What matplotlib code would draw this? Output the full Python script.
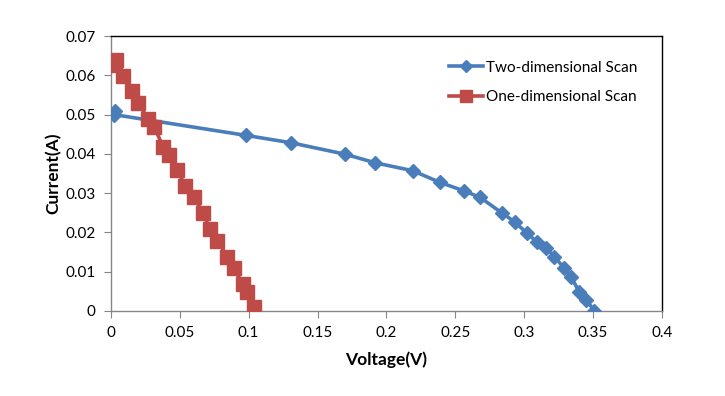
import matplotlib
matplotlib.use("Agg")
import matplotlib.pyplot as plt

# Two-dimensional scan (voltage V, current A)
two_v = [0.003, 0.002, 0.098, 0.131, 0.170, 0.192, 0.219, 0.239, 0.256, 0.268,
         0.284, 0.293, 0.302, 0.309, 0.316, 0.322, 0.329, 0.334, 0.340, 0.345, 0.351]
two_i = [0.0508, 0.0500, 0.0447, 0.0428, 0.0399, 0.0377, 0.0357, 0.0327, 0.0306, 0.0289,
         0.0249, 0.0227, 0.0198, 0.0176, 0.0160, 0.0138, 0.0109, 0.0087, 0.0048, 0.0028, 0.0]

# One-dimensional scan
one_v = [0.002, 0.004, 0.003, 0.009, 0.0155, 0.020, 0.027, 0.0315, 0.038, 0.0424, 0.048,
         0.054, 0.0606, 0.0667, 0.072, 0.0773, 0.0846, 0.089, 0.0958, 0.0991, 0.104]
one_i = [0.0625, 0.0640, 0.0632, 0.0598, 0.0560, 0.0529, 0.0488, 0.0468, 0.0417, 0.0397, 0.0359,
         0.0318, 0.0289, 0.0249, 0.0208, 0.0178, 0.0138, 0.0109, 0.0068, 0.0048, 0.0011]

xticks = [0, 0.05, 0.1, 0.15, 0.2, 0.25, 0.3, 0.35, 0.4]
yticks = [0, 0.01, 0.02, 0.03, 0.04, 0.05, 0.06, 0.07]

plt.rcParams['font.family'] = ['Lato', 'DejaVu Sans']

fig = plt.figure(figsize=(7.25, 3.96), dpi=100)
ax = fig.add_axes([0.153, 0.215, 0.760, 0.694])

ax.plot(two_v, two_i, color='#4A7EBB', lw=2.6, marker='D', ms=7.5,
        mfc='#4A7EBB', mec='#4A7EBB', label='Two-dimensional Scan', zorder=3)
ax.plot(one_v, one_i, color='#BE4B48', lw=2.6, marker='s', ms=10,
        mfc='#BE4B48', mec='#BE4B48', label='One-dimensional Scan', zorder=4)

ax.set_xlim(0, 0.4)
ax.set_ylim(0, 0.07)
ax.set_xticks(xticks)
ax.set_xticklabels(['0', '0.05', '0.1', '0.15', '0.2', '0.25', '0.3', '0.35', '0.4'])
ax.set_yticks(yticks)
ax.set_yticklabels(['0', '0.01', '0.02', '0.03', '0.04', '0.05', '0.06', '0.07'])
ax.tick_params(direction='out', length=5, color='#868686', labelsize=11, pad=6)

for s in ['left', 'bottom']:
    ax.spines[s].set_color('#868686')
for s in ['top', 'right']:
    ax.spines[s].set_color('black')
for s in ax.spines.values():
    s.set_linewidth(1)

ax.set_xlabel('Voltage(V)', fontsize=12.5, fontweight='bold', labelpad=8)
ax.set_ylabel('Current(A)', fontsize=12.5, fontweight='bold', labelpad=3)

ax.legend(loc='upper right', bbox_to_anchor=(0.98, 0.96), frameon=False,
          fontsize=11, handlelength=2.2, handletextpad=0.2, labelspacing=1.0,
          markerscale=0.8)

fig.savefig('out.png', dpi=100)
